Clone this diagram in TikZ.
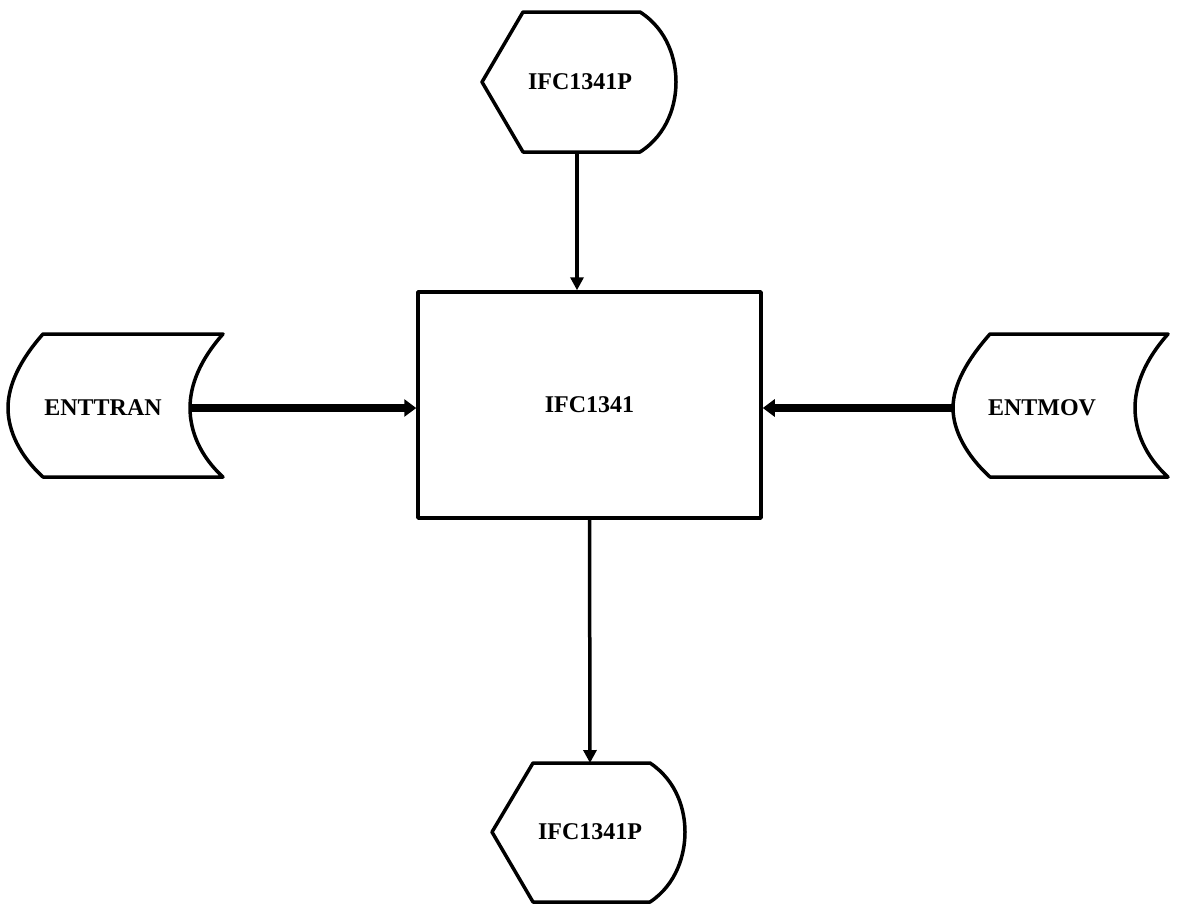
\documentclass[tikz,border=0pt]{standalone}
\usepackage{fontspec}
\setmainfont{Liberation Serif}
\usetikzlibrary{arrows.meta}
\begin{document}
\begin{tikzpicture}[x=1pt,y=-1pt,
  shapeline/.style={line width=3.5pt, line join=round},
  lbl/.style={font=\fontsize{24}{26}\selectfont\bfseries, inner sep=0pt},
  thin arrow/.style={line width=3.5pt, -{Triangle[length=13pt,width=13pt]}},
  thick arrow/.style={line width=8pt, -{Triangle[length=12pt,width=17pt]}}]
\useasboundingbox (0,0) rectangle (1180,908);
% central process box
\node[draw, shapeline, minimum width=343pt, minimum height=226pt, lbl] (box) at (589.5,405) {IFC1341};
% top display
\draw[shapeline] (482,82) -- (523,12) -- (640,12) .. controls (668,30) and (676,60) .. (676,82)
  .. controls (676,104) and (668,134) .. (640,152) -- (523,152) -- cycle;
\node[lbl] (dtop) at (580,82) {IFC1341P};
\coordinate (dtopout) at (577,152);
% bottom display
\draw[shapeline] (492,832) -- (533,763) -- (650,763) .. controls (677,781) and (685,810) .. (685,832)
  .. controls (685,854) and (677,884) .. (650,902) -- (533,902) -- cycle;
\node[lbl] (dbot) at (590,832) {IFC1341P};
\coordinate (dbotin) at (590,763);
% left storage
\draw[shapeline] (43,334) -- (223,334) .. controls (200,360) and (190,385) .. (190,408)
  .. controls (190,431) and (200,456) .. (223,477) -- (43,477)
  .. controls (20,456) and (8,431) .. (8,408) .. controls (8,385) and (20,360) .. cycle;
\node[lbl] (ent) at (103,408) {ENTTRAN};
\coordinate (entout) at (190,408);
% right storage
\draw[shapeline] (990,334) -- (1168,334) .. controls (1145,360) and (1135,385) .. (1135,408)
  .. controls (1135,431) and (1145,456) .. (1168,477) -- (990,477)
  .. controls (967,456) and (953,431) .. (953,408) .. controls (953,385) and (967,360) .. cycle;
\node[lbl] (mov) at (1042,408) {ENTMOV};
\coordinate (movout) at (953,408);
% connectors
\draw[thin arrow] (dtopout) -- (dtopout |- box.north);
\draw[thin arrow] (box.south) -- (dbotin);
\draw[thick arrow] (entout) -- (entout -| box.west);
\draw[thick arrow] (movout) -- (movout -| box.east);
\end{tikzpicture}
\end{document}
